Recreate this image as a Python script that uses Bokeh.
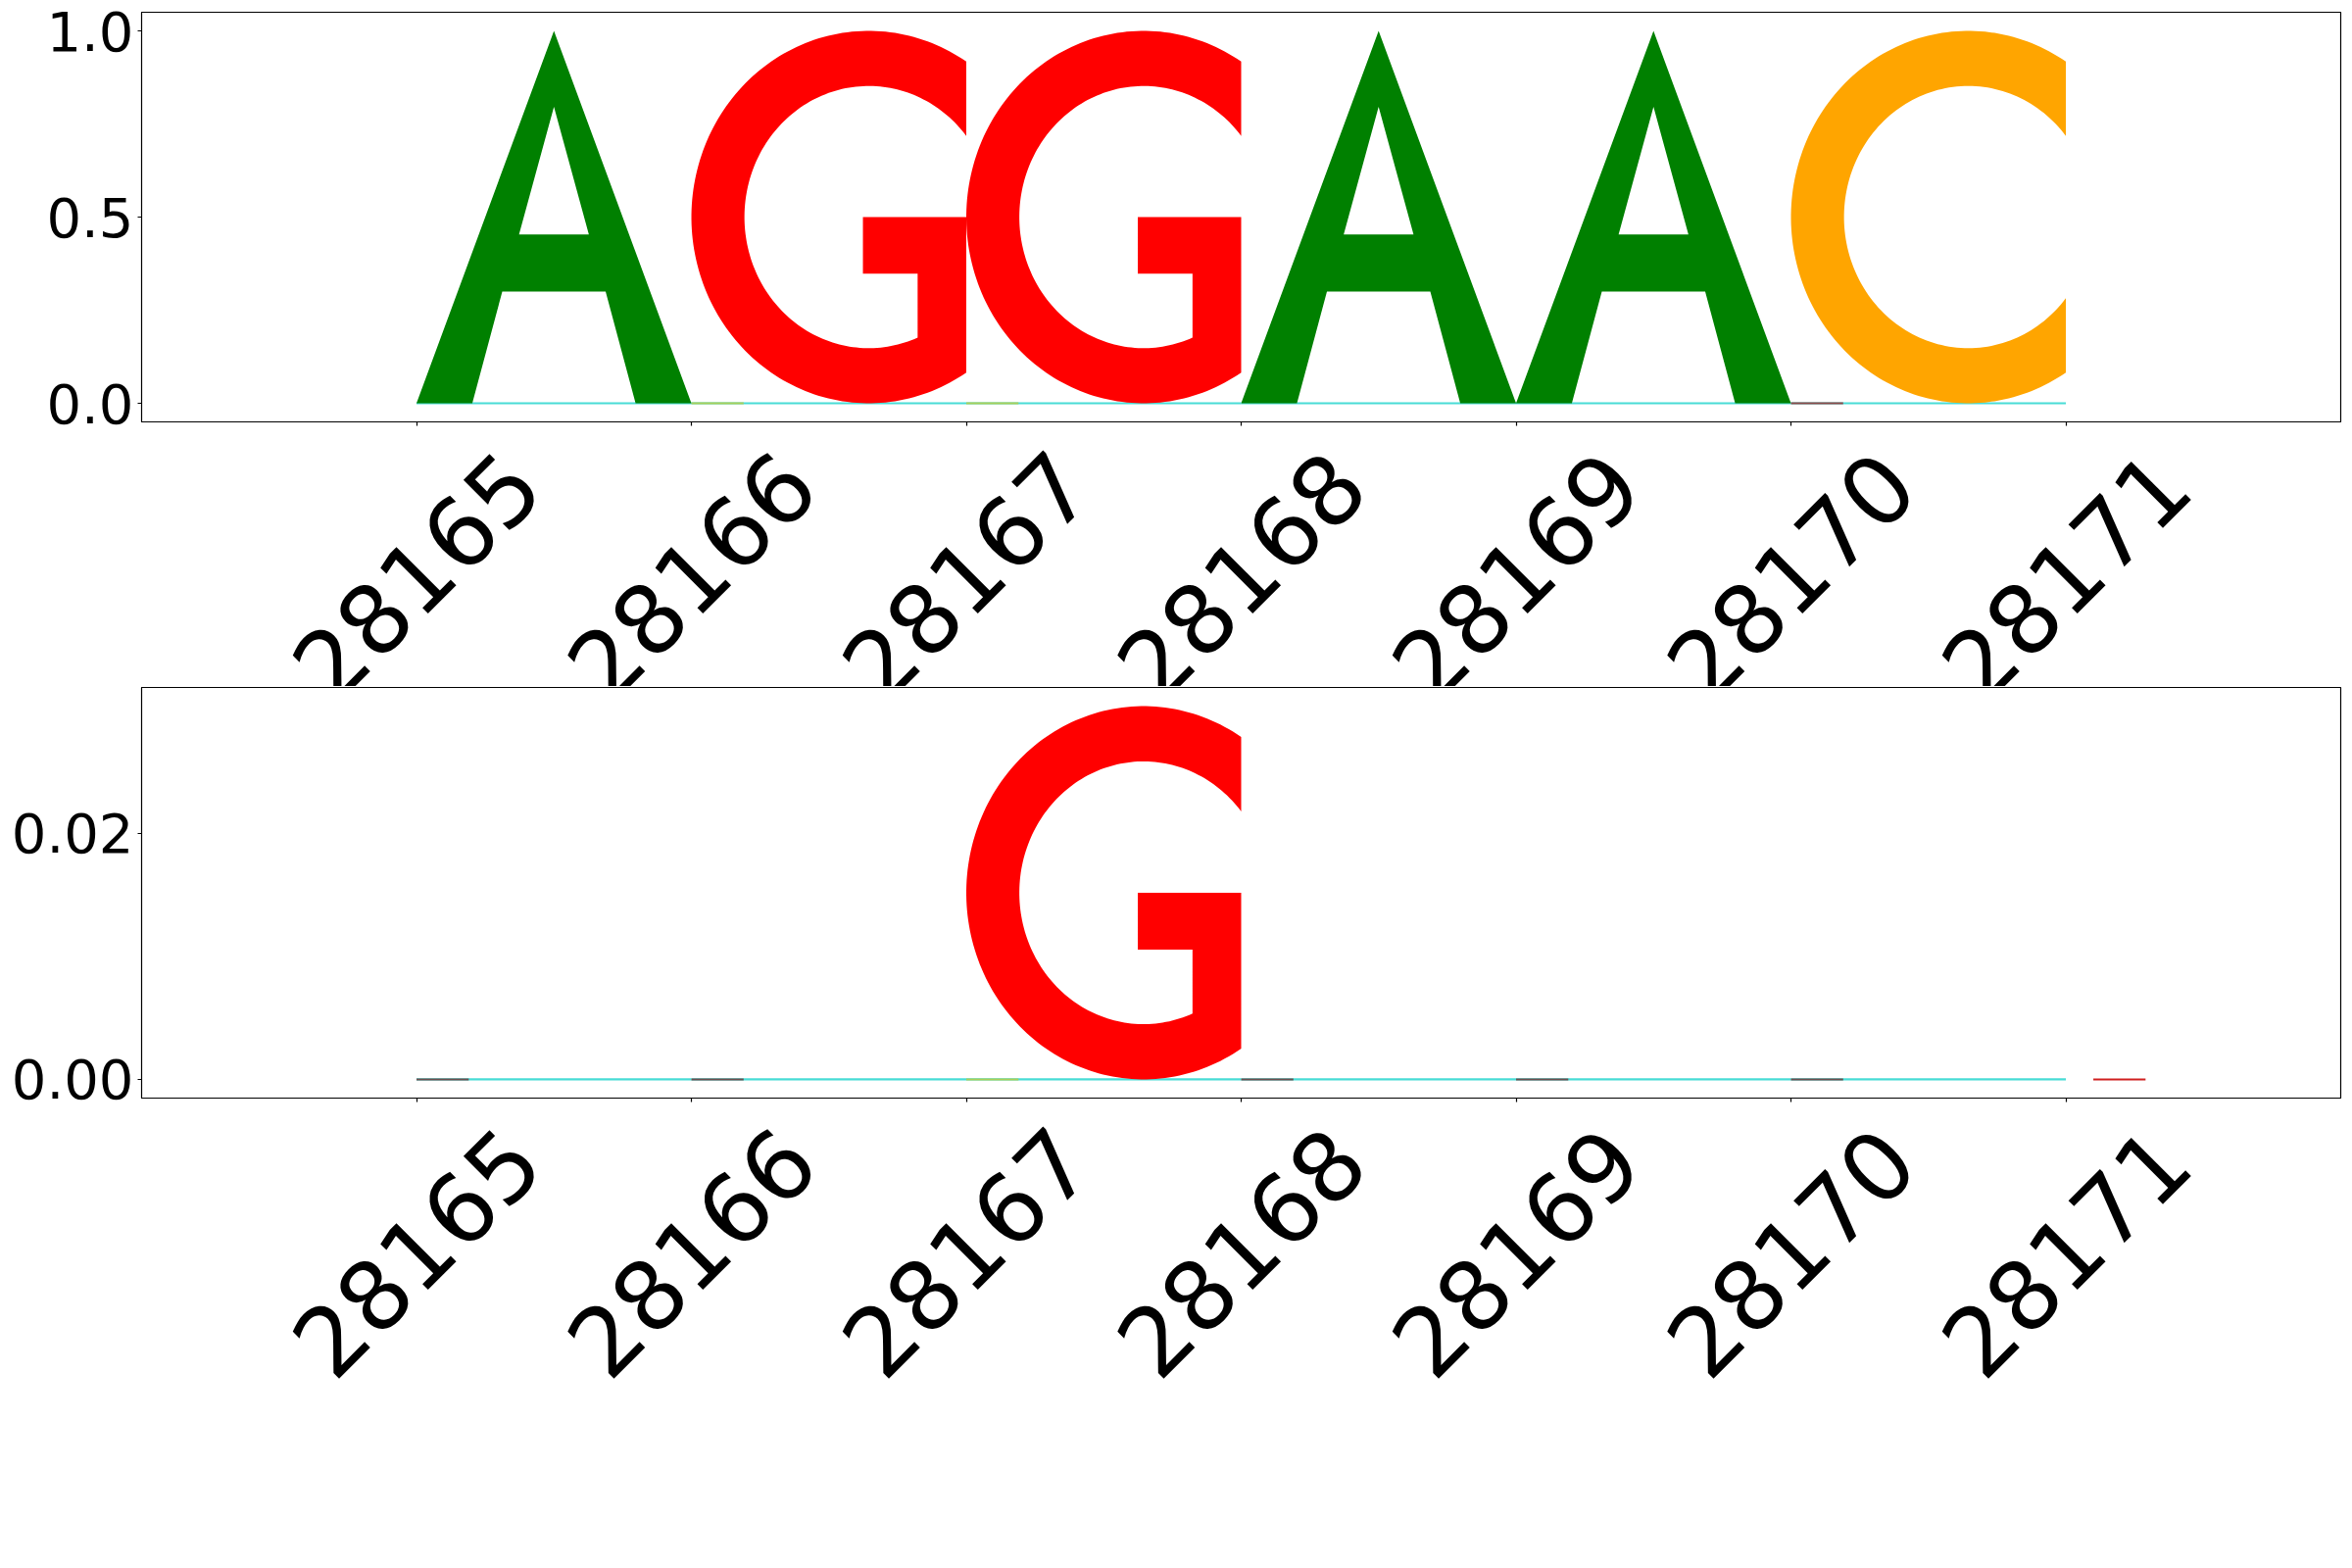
import numpy as np
from bokeh.plotting import figure
from bokeh.layouts import column
from bokeh.models import Range1d, FixedTicker, PrintfTickFormatter, ColumnDataSource
from bokeh.embed import file_html
from bokeh.resources import INLINE
from bokeh.core.properties import value

# ---------------- data ----------------
positions = [28165, 28166, 28167, 28168, 28169, 28170]
top_letters = ["A", "G", "G", "A", "A", "C"]
top_heights = [1.0, 1.0, 1.0, 1.0, 1.0, 1.0]

bottom_positions = [28167]
bottom_letters = ["G"]
bottom_heights = [0.0303]

x_ticks = [28165, 28166, 28167, 28168, 28169, 28170, 28171]
x_tick_labels = ["28165", "28166", "28167", "28168", "28169", "28170", "28171"]
top_y_ticks = [0.0, 0.5, 1.0]
bottom_y_ticks = [0.0, 0.02]

# near-zero contributions, visible only as flat strokes on the baseline
top_trace_starts = [28166, 28167, 28170]
top_trace_widths = [0.19, 0.19, 0.19]
top_trace_colors = ["#a8cf5a", "#a8cf5a", "#8b4a4a"]

bottom_trace_starts = [28165, 28166, 28167, 28168, 28169, 28170, 28171.1]
bottom_trace_widths = [0.19, 0.19, 0.19, 0.19, 0.19, 0.19, 0.19]
bottom_trace_colors = ["#6b4f4f", "#6b4f4f", "#a8cf5a", "#6b4f4f", "#6b4f4f", "#6b4f4f", "#d02020"]

gap_starts = [28165, 28166, 28167, 28168, 28169, 28170]
gap_widths = [1.0, 1.0, 1.0, 1.0, 1.0, 1.0]

letter_colors = {"A": "#008000", "G": "#ff0000", "C": "#ffa500"}

# ---------------- letter outlines (unit box) ----------------
CX, CY, AO, BO, AI, BI = 0.645, 0.5, 0.645, 0.5, 0.452, 0.352


def arc(a, b, t0, t1, n=160):
    t = np.radians(np.linspace(t0, t1, n))
    return list(CX + a * np.cos(t)), list(CY + b * np.sin(t))


def ang(u, a):
    return float(np.degrees(np.arccos((u - CX) / a)))


t_out = ang(1.0, AO)
t_in = ang(1.0, AI)
t_stem = ang(0.823, AI)


def shape_A():
    ou = [0.0, 0.5, 1.0, 0.797, 0.688, 0.312, 0.203]
    ov = [0.0, 1.0, 0.0, 0.0, 0.30, 0.30, 0.0]
    hu = [0.373, 0.5, 0.627]
    hv = [0.453, 0.796, 0.453]
    return [(ou, ov), (hu, hv)]


def shape_G():
    u1, v1 = arc(AO, BO, t_out, 360 - t_out)
    u2, v2 = arc(AI, BI, 360 - t_stem, t_in)
    u = u1 + [1.0, 0.624, 0.624, 0.823] + u2
    v = v1 + [0.5, 0.5, 0.348, 0.348] + v2
    return [(u, v)]


def shape_C():
    u1, v1 = arc(AO, BO, t_out, 360 - t_out)
    u2, v2 = arc(AI, BI, 360 - t_in, t_in)
    return [(u1 + u2, v1 + v2)]


SHAPES = {"A": shape_A, "G": shape_G, "C": shape_C}


def letter_source(pos, letters, heights):
    xs, ys, colors = [], [], []
    for p, l, h in zip(pos, letters, heights):
        rings = SHAPES[l]()
        xs.append([[list(np.asarray(u) + p) for u, v in rings]])
        ys.append([[list(np.asarray(v) * h) for u, v in rings]])
        colors.append(letter_colors[l])
    return ColumnDataSource(dict(xs=xs, ys=ys, color=colors))


FONT = "DejaVu Sans"
X_RANGE = Range1d(28164, 28172)
LEFT, RIGHT = 144, 12
PANEL_BOTTOM = 22   # room under each frame for tick marks and the lowest y label


def make_panel(frame_h, border_top, y_range, y_ticks, y_fmt,
               pos, letters, heights, tr_starts, tr_widths, tr_colors):
    p = figure(width=2400, height=border_top + frame_h + PANEL_BOTTOM,
               output_backend="svg", toolbar_location=None,
               x_range=X_RANGE, y_range=y_range,
               min_border_left=LEFT, min_border_right=RIGHT,
               min_border_top=border_top, min_border_bottom=PANEL_BOTTOM)
    p.grid.visible = False
    p.outline_line_color = "black"
    p.outline_line_width = 1.2
    p.background_fill_color = "white"
    p.border_fill_color = "white"

    # baseline strokes
    p.segment(x0=gap_starts, y0=0, x1=[s + w for s, w in zip(gap_starts, gap_widths)], y1=0,
              line_color="#48dcd6", line_width=2.2)
    p.segment(x0=tr_starts, y0=0, x1=[s + w for s, w in zip(tr_starts, tr_widths)], y1=0,
              line_color=tr_colors, line_width=2)

    src = letter_source(pos, letters, heights)
    p.multi_polygons(xs="xs", ys="ys", source=src, fill_color="color", line_color=None)

    # x axis: tick marks only (rotated labels are drawn in the strip below)
    p.xaxis.ticker = FixedTicker(ticks=x_ticks)
    p.xaxis.major_label_overrides = {t: "" for t in x_ticks}
    p.xaxis.major_label_text_font_size = "8px"
    p.xaxis.major_label_standoff = 0
    p.xaxis.minor_tick_line_color = None
    p.xaxis.major_tick_in = 0
    p.xaxis.major_tick_out = 4
    p.xaxis.major_tick_line_width = 1.2
    p.xaxis.axis_line_color = "black"

    p.yaxis.ticker = FixedTicker(ticks=y_ticks)
    p.yaxis.formatter = PrintfTickFormatter(format=y_fmt)
    p.yaxis.minor_tick_line_color = None
    p.yaxis.major_tick_in = 0
    p.yaxis.major_tick_out = 4
    p.yaxis.major_tick_line_width = 1.2
    p.yaxis.major_label_standoff = 4
    p.yaxis.major_label_text_font = FONT
    p.yaxis.major_label_text_font_size = "56px"
    p.yaxis.major_label_text_color = "black"
    p.yaxis.axis_line_color = "black"
    return p


def make_label_strip(height):
    # transparent strip that starts at the panel's frame bottom (overlapping the
    # panel's lower border); y is measured in pixels below that frame edge
    s = figure(width=2400, height=height, output_backend="svg", toolbar_location=None,
               x_range=X_RANGE, y_range=Range1d(-height, 0),
               min_border_left=LEFT, min_border_right=RIGHT,
               min_border_top=0, min_border_bottom=0,
               margin=(-PANEL_BOTTOM, 0, 0, 0))
    s.axis.visible = False
    s.grid.visible = False
    s.outline_line_color = None
    s.background_fill_color = None
    s.border_fill_color = None
    s.background_fill_alpha = 0
    s.border_fill_alpha = 0
    src = ColumnDataSource(dict(x=x_ticks, text=x_tick_labels))
    # rotated tick labels, centred under each tick
    s.text(x="x", y=-157, text="text", source=src, angle=np.pi / 4,
           text_align="center", text_baseline="middle",
           text_font=value(FONT), text_font_size=value("97px"), text_color="black")
    return s


# top panel frame: y 12..430 ; bottom panel frame: y 701..1120
top = make_panel(418, 12, Range1d(-0.05, 1.05), top_y_ticks, "%.1f",
                 positions, top_letters, top_heights,
                 top_trace_starts, top_trace_widths, top_trace_colors)
top_strip = make_label_strip(700 - 430)
bottom = make_panel(419, 1, Range1d(-0.00152, 0.03182), bottom_y_ticks, "%.2f",
                    bottom_positions, bottom_letters, bottom_heights,
                    bottom_trace_starts, bottom_trace_widths, bottom_trace_colors)
bottom_strip = make_label_strip(1600 - 1120)

layout = column(top, top_strip, bottom, bottom_strip, spacing=0)
open("out.html", "w").write(file_html(layout, INLINE))
